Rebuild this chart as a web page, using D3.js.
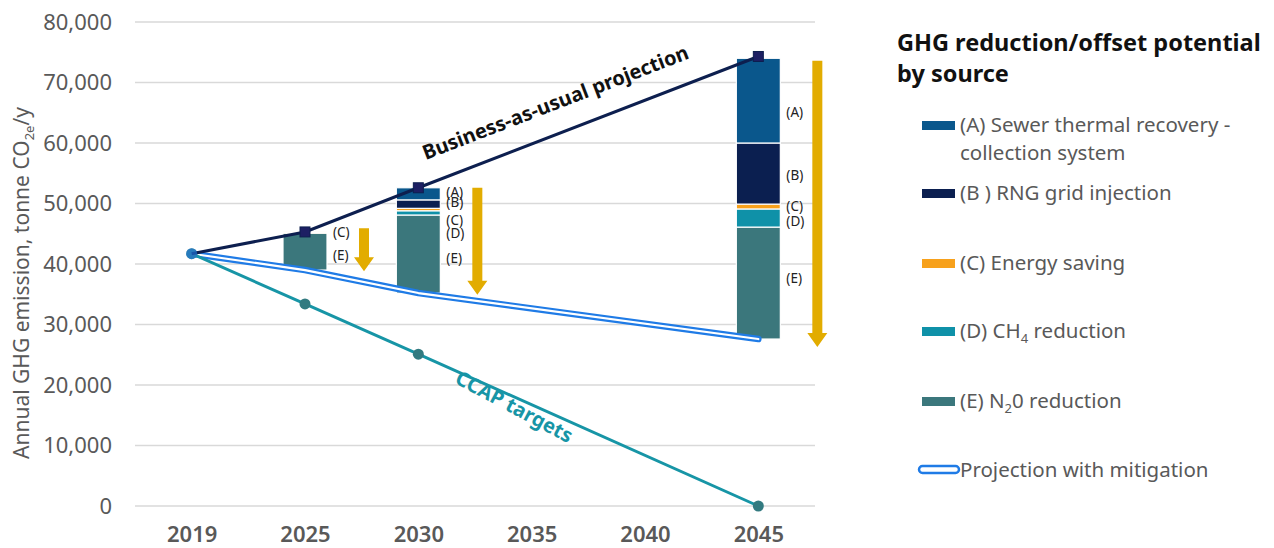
<!DOCTYPE html>
<html>
<head>
<meta charset="utf-8">
<script src="https://cdn.jsdelivr.net/npm/d3@7"></script>
<style>
body { margin: 0; background: #fff; font-family: "Noto Sans", "Open Sans", sans-serif; }
svg text { font-family: "Noto Sans", "Open Sans", sans-serif; }
</style>
</head>
<body>
<svg id="chart" width="1274" height="548"></svg>
<script>
// data
var years = ["2019", "2025", "2030", "2035", "2040", "2045"];
var yTicks = [0, 10000, 20000, 30000, 40000, 50000, 60000, 70000, 80000];

var bauYears = ["2019", "2025", "2030", "2045"];
var bauValues = [41700, 45300, 52600, 74300];

var mitYears = ["2019", "2025", "2030", "2045"];
var mitValues = [41700, 39000, 35200, 27600];

var ccapYears = ["2019", "2025", "2030", "2045"];
var ccapValues = [41700, 33400, 25100, 0];

// stacked reductions, sitting on top of the mitigated projection
var barYears = ["2025", "2030", "2045"];
var barBase = [39000, 35200, 27600];
var sourceKeys = ["E", "D", "C", "B", "A"];
var redE = [6100, 12900, 18500];
var redD = [0, 700, 3000];
var redC = [200, 400, 800];
var redB = [0, 1400, 10100];
var redA = [0, 2000, 14000];

var sourceColors = { A: "#0a578c", B: "#0b1f50", C: "#f7a11c", D: "#0f91a8", E: "#3b777c" };
var legendLabels = [
  ["A", ["(A) Sewer thermal recovery -", "collection system"]],
  ["B", ["(B ) RNG grid injection"]],
  ["C", ["(C) Energy saving"]],
  ["D", ["(D) CH", "4", " reduction"]],
  ["E", ["(E) N", "2", "0 reduction"]]
];

// labels next to bars: [year, text, value position]
var barLabelYears = ["2025", "2025", "2030", "2030", "2030", "2030", "2030", "2045", "2045", "2045", "2045", "2045"];
var barLabelText = ["(C)", "(E)", "(A)", "(B)", "(C)", "(D)", "(E)", "(A)", "(B)", "(C)", "(D)", "(E)"];
var barLabelValues = [45300, 41500, 51900, 50200, 47300, 45000, 41000, 65000, 54700, 49500, 47000, 37700];

// gold arrows from BAU down to mitigation
var arrowYears = ["2025", "2030", "2045"];
var arrowTop = [45900, 52600, 73600];
var arrowBottom = [38800, 34900, 26300];

var svg = d3.select("#chart");

var x = d3.scalePoint().domain(years).range([135, 815]).padding(0.5);
var y = d3.scaleLinear().domain([0, 80000]).range([506, 22]);
var fmt = d3.format(",");

// gridlines
svg.append("g").selectAll("line")
  .data(yTicks)
  .enter().append("line")
  .attr("x1", 135).attr("x2", 815)
  .attr("y1", function(d) { return y(d); })
  .attr("y2", function(d) { return y(d); })
  .attr("stroke", "#d9d9d9").attr("stroke-width", 1.3);

// y axis
var yAxis = svg.append("g")
  .attr("transform", "translate(118,0)")
  .call(d3.axisLeft(y).tickValues(yTicks).tickFormat(fmt).tickSize(0).tickPadding(6));
yAxis.select(".domain").remove();
yAxis.selectAll("text").attr("font-size", 22).attr("fill", "#595959");

// x axis
var xAxis = svg.append("g")
  .attr("transform", "translate(0,521)")
  .call(d3.axisBottom(x).tickSize(0).tickPadding(5));
xAxis.select(".domain").remove();
xAxis.selectAll("text").attr("font-size", 22).attr("font-weight", 600).attr("fill", "#595959");

// y label
var yl = svg.append("text")
  .attr("transform", "translate(29,283) rotate(-90)")
  .attr("text-anchor", "middle")
  .attr("font-size", 21).attr("fill", "#595959");
yl.append("tspan").text("Annual GHG emission, tonne CO");
yl.append("tspan").attr("font-size", 13).attr("dy", 5).text("2e");
yl.append("tspan").attr("dy", -5).text("/y");

// stacked bars
var barRows = barYears.map(function(yr, i) {
  return { year: yr, base: barBase[i], A: redA[i], B: redB[i], C: redC[i], D: redD[i], E: redE[i] };
});
var bw = 44;
barRows.forEach(function(row) {
  var acc = row.base;
  sourceKeys.forEach(function(k) {
    var v = row[k];
    if (v <= 0) return;
    svg.append("rect")
      .attr("x", x(row.year) - bw / 2)
      .attr("width", bw)
      .attr("y", y(acc + v))
      .attr("height", y(acc) - y(acc + v))
      .attr("fill", sourceColors[k])
      .attr("stroke", "#fff").attr("stroke-width", 1.2);
    acc += v;
  });
});

// bar labels
svg.append("g").selectAll("text")
  .data(barLabelText)
  .enter().append("text")
  .attr("x", function(d, i) { return x(barLabelYears[i]) + bw / 2 + 6; })
  .attr("y", function(d, i) { return y(barLabelValues[i]); })
  .attr("dy", "0.35em")
  .attr("font-size", 13.5).attr("fill", "#222")
  .text(function(d) { return d; });

// projection with mitigation: blue double line
var mitLine = d3.line()
  .x(function(d, i) { return x(mitYears[i]); })
  .y(function(d) { return y(d); });
svg.append("path").datum(mitValues).attr("d", mitLine)
  .attr("fill", "none").attr("stroke", "#1f7be6").attr("stroke-width", 6.5)
  .attr("stroke-linecap", "round").attr("stroke-linejoin", "round");
svg.append("path").datum(mitValues).attr("d", mitLine)
  .attr("fill", "none").attr("stroke", "#fff").attr("stroke-width", 2.2)
  .attr("stroke-linecap", "round").attr("stroke-linejoin", "round");

// CCAP targets
var ccapLine = d3.line()
  .x(function(d, i) { return x(ccapYears[i]); })
  .y(function(d) { return y(d); });
svg.append("path").datum(ccapValues).attr("d", ccapLine)
  .attr("fill", "none").attr("stroke", "#1795a6").attr("stroke-width", 3);
svg.append("g").selectAll("circle")
  .data(ccapValues)
  .enter().append("circle")
  .attr("cx", function(d, i) { return x(ccapYears[i]); })
  .attr("cy", function(d) { return y(d); })
  .attr("r", 5.5)
  .attr("fill", "#327a80");

// business as usual
var bauLine = d3.line()
  .x(function(d, i) { return x(bauYears[i]); })
  .y(function(d) { return y(d); });
svg.append("path").datum(bauValues).attr("d", bauLine)
  .attr("fill", "none").attr("stroke", "#0d1f4f").attr("stroke-width", 3);
svg.append("g").selectAll("rect")
  .data(bauValues.slice(1))
  .enter().append("rect")
  .attr("x", function(d, i) { return x(bauYears[i + 1]) - 5; })
  .attr("y", function(d) { return y(d) - 5; })
  .attr("width", 10).attr("height", 10)
  .attr("fill", "#1d1f63").attr("stroke", "#0d1f4f").attr("stroke-width", 1);
svg.append("circle")
  .attr("cx", x("2019")).attr("cy", y(bauValues[0])).attr("r", 5.5)
  .attr("fill", "#1f7be6").attr("opacity", 0.6);

// gold arrows
arrowYears.forEach(function(yr, i) {
  var cx = x(yr) + 59;
  var yt = y(arrowTop[i]), yb = y(arrowBottom[i]);
  var sw = 5, hw = 10, hh = 14;
  svg.append("path")
    .attr("d", "M" + (cx - sw) + "," + yt + "L" + (cx + sw) + "," + yt +
      "L" + (cx + sw) + "," + (yb - hh) + "L" + (cx + hw) + "," + (yb - hh) +
      "L" + cx + "," + yb + "L" + (cx - hw) + "," + (yb - hh) +
      "L" + (cx - sw) + "," + (yb - hh) + "Z")
    .attr("fill", "#e2ac00");
});

// line annotations
var bAng = Math.atan2(y(bauValues[3]) - y(bauValues[2]), x("2045") - x("2030")) * 180 / Math.PI;
svg.append("text")
  .attr("transform", "translate(558,109) rotate(" + bAng + ")")
  .attr("text-anchor", "middle")
  .attr("font-size", 20).attr("font-weight", 700).attr("fill", "#111")
  .text("Business-as-usual projection");
svg.append("text")
  .attr("transform", "translate(511,413) rotate(28)")
  .attr("text-anchor", "middle")
  .attr("font-size", 20).attr("font-weight", 700).attr("fill", "#1795a6")
  .text("CCAP targets");

// legend
var lg = svg.append("g");
lg.append("text").attr("x", 897).attr("y", 51)
  .attr("font-size", 23.5).attr("font-weight", 700).attr("fill", "#111")
  .text("GHG reduction/offset potential");
lg.append("text").attr("x", 897).attr("y", 82)
  .attr("font-size", 23.5).attr("font-weight", 700).attr("fill", "#111")
  .text("by source");

var legendY = [125, 193, 263, 331, 401];
legendLabels.forEach(function(item, i) {
  var k = item[0], parts = item[1];
  var yy = legendY[i];
  lg.append("rect").attr("x", 922).attr("y", yy - 4).attr("width", 33).attr("height", 9)
    .attr("fill", sourceColors[k]);
  var t = lg.append("text").attr("x", 960).attr("y", yy).attr("dy", "0.35em")
    .attr("font-size", 20.5).attr("fill", "#595959");
  if (k === "A") {
    t.text(parts[0]);
    lg.append("text").attr("x", 960).attr("y", yy + 28).attr("dy", "0.35em")
      .attr("font-size", 20.5).attr("fill", "#595959").text(parts[1]);
  } else if (parts.length === 3) {
    t.append("tspan").text(parts[0]);
    t.append("tspan").attr("font-size", 13).attr("dy", 5).text(parts[1]);
    t.append("tspan").attr("dy", -5).text(parts[2]);
  } else {
    t.text(parts[0]);
  }
});
lg.append("rect").attr("x", 919).attr("y", 466).attr("width", 40).attr("height", 7)
  .attr("rx", 3.5).attr("fill", "#fff").attr("stroke", "#1f7be6").attr("stroke-width", 2.5);
lg.append("text").attr("x", 960).attr("y", 470).attr("dy", "0.35em")
  .attr("font-size", 20.5).attr("fill", "#595959").text("Projection with mitigation");
</script>
</body>
</html>
